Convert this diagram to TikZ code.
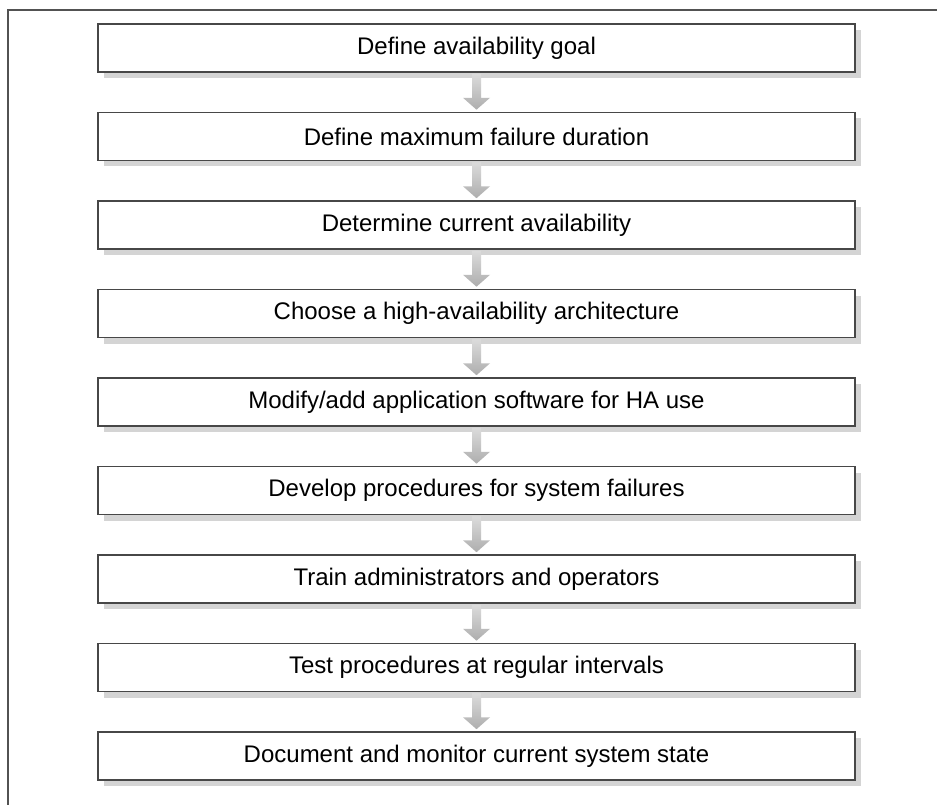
\documentclass[tikz,border=0pt]{standalone}
\usepackage{fontspec}
\setmainfont{Liberation Sans}
\usetikzlibrary{calc,shadows}
\begin{document}
\begin{tikzpicture}[x=1pt,y=-1pt,
  stepbox/.style={draw=black!72, line width=1.6pt, fill=white,
    minimum width=757pt, minimum height=48pt, inner sep=0pt,
    font=\fontsize{24}{28}\selectfont,
    drop shadow={shadow xshift=6pt, shadow yshift=-6pt, fill=black!17, opacity=1}},
  flowarrow/.style={top color=black!14, bottom color=black!32, draw=none},
  frameline/.style={draw=black!68, line width=1.8pt}]
\useasboundingbox (0,0) rectangle (937,805);
\fill[white] (0,0) rectangle (937,805);
% open frame along the top and left edges
\draw[frameline] (937,10) -- (8,10) -- (8,805);
% process steps
\foreach \i/\t in {
  1/{Define availability goal},
  2/{Define maximum failure duration},
  3/{Determine current availability},
  4/{Choose a high-availability architecture},
  5/{Modify/add application software for HA use},
  6/{Develop procedures for system failures},
  7/{Train administrators and operators},
  8/{Test procedures at regular intervals},
  9/{Document and monitor current system state}}
  \node[stepbox] (b\i) at (476.5,{48+88.5*(\i-1)}) {\t};
% block arrows between consecutive steps
\foreach \a/\b in {b1/b2,b2/b3,b3/b4,b4/b5,b5/b6,b6/b7,b7/b8,b8/b9}
  \path[flowarrow] ($(\a.south)+(-4.5,1)$) -- ($(\a.south)+(4.5,1)$)
    -- ($(\a.south)+(4.5,25)$) -- ($(\a.south)+(13.5,25)$)
    -- ($(\b.north)+(0,-2)$)
    -- ($(\a.south)+(-13.5,25)$) -- ($(\a.south)+(-4.5,25)$) -- cycle;
\end{tikzpicture}
\end{document}
